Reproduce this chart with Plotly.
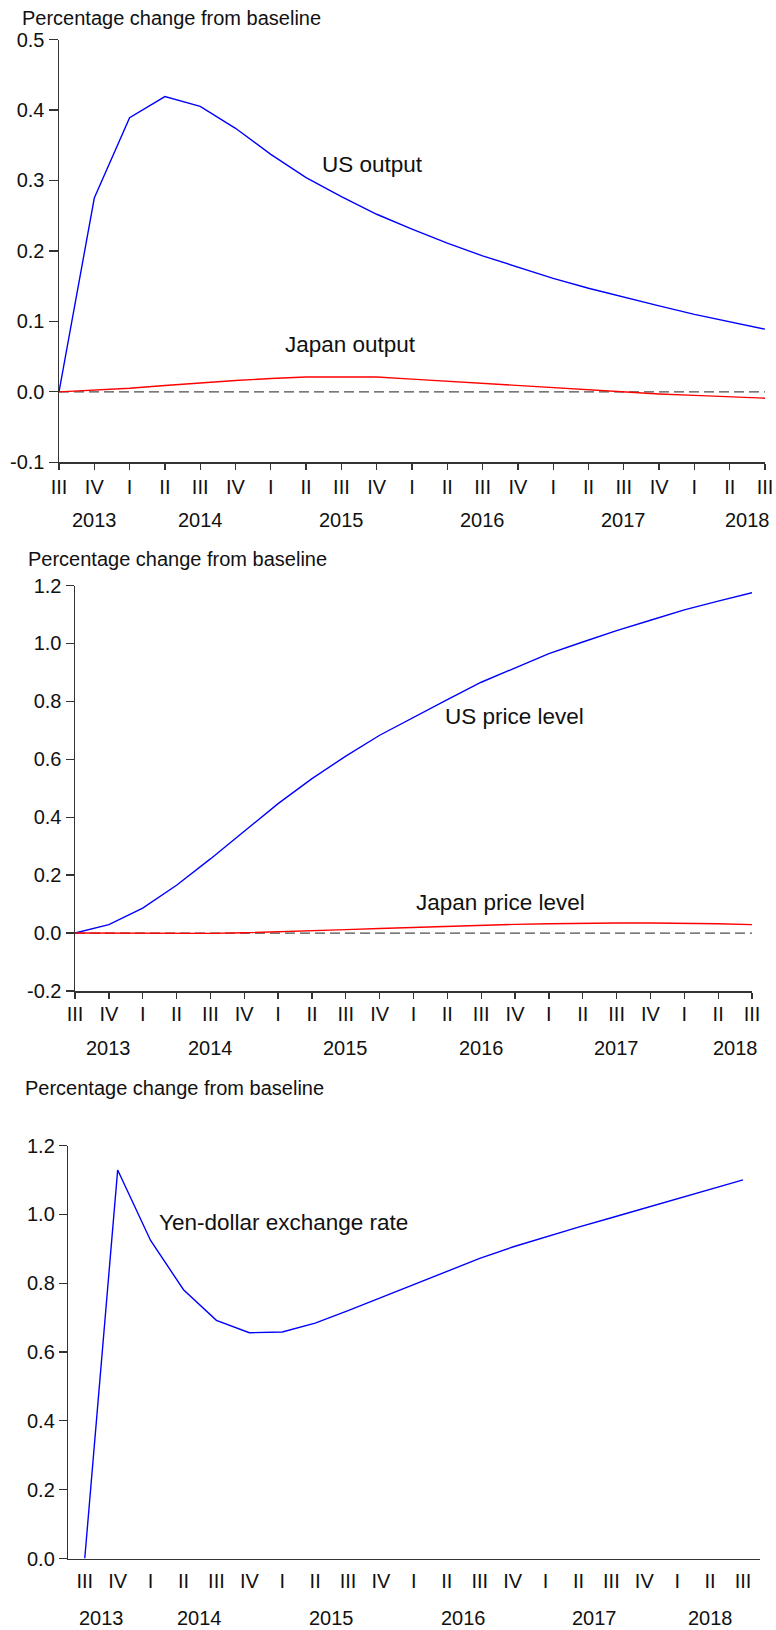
import plotly.graph_objects as go

# ---------------- data ----------------
quarters = ["III", "IV",
            "I", "II", "III", "IV",
            "I", "II", "III", "IV",
            "I", "II", "III", "IV",
            "I", "II", "III", "IV",
            "I", "II", "III"]
quarter_years = [2013, 2013,
                 2014, 2014, 2014, 2014,
                 2015, 2015, 2015, 2015,
                 2016, 2016, 2016, 2016,
                 2017, 2017, 2017, 2017,
                 2018, 2018, 2018]
years = [2013, 2014, 2015, 2016, 2017, 2018]

us_output = [0.000, 0.275, 0.389, 0.419, 0.405, 0.374, 0.337, 0.304, 0.277, 0.252, 0.231,
             0.211, 0.193, 0.177, 0.161, 0.147, 0.134, 0.122, 0.110, 0.100, 0.089]
japan_output = [0.000, 0.002, 0.005, 0.009, 0.013, 0.016, 0.019, 0.021, 0.021, 0.021, 0.018,
                0.015, 0.012, 0.009, 0.006, 0.002, 0.000, -0.003, -0.005, -0.007, -0.009]

us_price = [0.000, 0.029, 0.086, 0.165, 0.256, 0.352, 0.447, 0.533, 0.611, 0.683, 0.745,
            0.806, 0.866, 0.916, 0.965, 1.005, 1.044, 1.080, 1.116, 1.146, 1.175]
japan_price = [0.000, 0.000, -0.002, -0.002, -0.001, 0.001, 0.004, 0.008, 0.012, 0.016, 0.020,
               0.024, 0.027, 0.030, 0.032, 0.034, 0.035, 0.035, 0.034, 0.032, 0.029]

yen_dollar = [0.000, 1.129, 0.924, 0.781, 0.692, 0.656, 0.658, 0.684, 0.720, 0.758, 0.797,
              0.835, 0.872, 0.905, 0.935, 0.963, 0.990, 1.018, 1.045, 1.072, 1.100]

y1_ticks = [-0.1, 0.0, 0.1, 0.2, 0.3, 0.4, 0.5]
y2_ticks = [-0.2, 0.0, 0.2, 0.4, 0.6, 0.8, 1.0, 1.2]
y3_ticks = [0.0, 0.2, 0.4, 0.6, 0.8, 1.0, 1.2]

title_text = "Percentage change from baseline"

# ---------------- layout helpers ----------------
W, H = 776, 1630
FONT = "Liberation Sans, Arial, sans-serif"
AX = "#333333"
TICK_FS = 20
ANN_FS = 22.5

idx = list(range(len(quarters)))
zeros = [0.0 for _ in idx]
q1_idx = [i for i, q in enumerate(quarters) if q == "I"]
bounds = [i - 0.5 for i in range(len(quarters) + 1)]
year_bounds = [i - 0.5 for i in q1_idx]


def xdom(a, b):
    return [a / W, b / W]


def ydom(top, bottom):
    return [1 - bottom / H, 1 - top / H]


def fmt(v):
    return f"{v:.1f}".replace("-0.0", "0.0")


def year_centres(shift):
    out = []
    for yv in years:
        ii = [i for i, q in enumerate(quarter_years) if q == yv]
        out.append(sum(ii) / len(ii) + shift)
    return out


fig = go.Figure()

# panel 1
fig.add_trace(go.Scatter(x=idx, y=zeros, mode="lines", xaxis="x", yaxis="y",
                         line=dict(color="#4d4d4d", width=1.2, dash="10px,5px")))
fig.add_trace(go.Scatter(x=idx, y=us_output, mode="lines", xaxis="x", yaxis="y",
                         line=dict(color="#0000ff", width=1.4)))
fig.add_trace(go.Scatter(x=idx, y=japan_output, mode="lines", xaxis="x", yaxis="y",
                         line=dict(color="#ff0000", width=1.4)))
# panel 2
fig.add_trace(go.Scatter(x=idx, y=zeros, mode="lines", xaxis="x2", yaxis="y2",
                         line=dict(color="#4d4d4d", width=1.2, dash="10px,5px")))
fig.add_trace(go.Scatter(x=idx, y=us_price, mode="lines", xaxis="x2", yaxis="y2",
                         line=dict(color="#0000ff", width=1.4)))
fig.add_trace(go.Scatter(x=idx, y=japan_price, mode="lines", xaxis="x2", yaxis="y2",
                         line=dict(color="#ff0000", width=1.4)))
# panel 3
fig.add_trace(go.Scatter(x=idx, y=yen_dollar, mode="lines", xaxis="x3", yaxis="y3",
                         line=dict(color="#0000ff", width=1.4)))

tickfont = dict(family=FONT, size=TICK_FS, color="#111111")

common_x = dict(showgrid=False, zeroline=False, showline=True, linecolor=AX, linewidth=1.5,
                tickcolor=AX, tickwidth=1.3, tickfont=tickfont, tickmode="array",
                fixedrange=True, automargin=False)
common_y = dict(showgrid=False, zeroline=False, showline=True, linecolor=AX, linewidth=1.5,
                tickcolor=AX, tickwidth=1.3, tickfont=tickfont, tickmode="array",
                ticks="outside", ticklen=9, fixedrange=True, automargin=False)
overlay_x = dict(showgrid=False, zeroline=False, showline=False, showticklabels=False,
                 tickcolor=AX, tickwidth=1.3, tickmode="array", ticks="outside",
                 fixedrange=True, automargin=False)

P1 = dict(x=xdom(59, 765), y=ydom(39.5, 462.3))
P2 = dict(x=xdom(75, 752), y=ydom(585.5, 991))
P3 = dict(x=xdom(68.3, 759.5), y=ydom(1145.5, 1558.5))

fig.update_layout(
    width=W, height=H,
    margin=dict(l=0, r=0, t=0, b=0, autoexpand=False),
    paper_bgcolor="white", plot_bgcolor="white",
    showlegend=False,
    hovermode=False,
    font=dict(family=FONT, size=TICK_FS, color="#111111"),
    # panel 1
    xaxis=dict(common_x, domain=P1["x"], anchor="y", range=[0, 20], tickvals=idx,
               ticktext=quarters, ticks="outside", ticklen=6, ticklabelstandoff=0),
    xaxis4=dict(overlay_x, domain=P1["x"], anchor="y", overlaying="x", range=[0, 20],
                tickvals=q1_idx, ticklen=10),
    yaxis=dict(common_y, domain=P1["y"], anchor="x", range=[-0.1, 0.5], tickvals=y1_ticks,
               ticktext=[fmt(v) for v in y1_ticks]),
    # panel 2
    xaxis2=dict(common_x, domain=P2["x"], anchor="y2", range=[0, 20], tickvals=idx,
                ticktext=quarters, ticks="outside", ticklen=6, ticklabelstandoff=-2),
    xaxis5=dict(overlay_x, domain=P2["x"], anchor="y2", overlaying="x2", range=[0, 20],
                tickvals=q1_idx, ticklen=10),
    yaxis2=dict(common_y, domain=P2["y"], anchor="x2", range=[-0.2, 1.2], tickvals=y2_ticks,
                ticktext=[fmt(v) for v in y2_ticks], ticklen=8),
    # panel 3
    xaxis3=dict(common_x, domain=P3["x"], anchor="y3", range=[-0.5, 20.5], tickvals=idx,
                ticktext=quarters, ticks="", ticklabelstandoff=4),
    xaxis6=dict(overlay_x, domain=P3["x"], anchor="y3", overlaying="x3", range=[-0.5, 20.5],
                tickvals=bounds, ticklen=5),
    xaxis7=dict(overlay_x, domain=P3["x"], anchor="y3", overlaying="x3", range=[-0.5, 20.5],
                tickvals=year_bounds, ticklen=9),
    yaxis3=dict(common_y, domain=P3["y"], anchor="x3", range=[0, 1.2], tickvals=y3_ticks,
                ticktext=[fmt(v) for v in y3_ticks], ticklen=8),
)

ann = []
# titles
for ypix, xpix in [(18, 20), (559, 26), (1088, 22.7)]:
    ann.append(dict(text=title_text, xref="paper", yref="paper", x=xpix / W, y=1 - ypix / H,
                    xanchor="left", yanchor="middle", showarrow=False,
                    font=dict(family=FONT, size=TICK_FS, color="#111111")))

# year labels
for xr, yr, shift, yshift in [("x", "y", 0.5, -58), ("x2", "y2", 0.5, -57), ("x3", "y3", 0.0, -59)]:
    for yv, xc in zip(years, year_centres(shift)):
        ann.append(dict(text=str(yv), xref=xr, yref=yr + " domain", x=xc, y=0,
                        yshift=yshift, xanchor="center", yanchor="middle", showarrow=False,
                        font=dict(family=FONT, size=TICK_FS, color="#111111")))

# series labels
series_labels = [
    ("US output", "x", "y", 8.88, 0.323),
    ("Japan output", "x", "y", 8.27, 0.067),
    ("US price level", "x2", "y2", 12.97, 0.749),
    ("Japan price level", "x2", "y2", 12.58, 0.106),
    ("Yen-dollar exchange rate", "x3", "y3", 6.03, 0.977),
]
for txt, xr, yr, xv, yv in series_labels:
    ann.append(dict(text=txt, xref=xr, yref=yr, x=xv, y=yv, xanchor="center",
                    yanchor="middle", showarrow=False,
                    font=dict(family=FONT, size=ANN_FS, color="#111111")))

fig.update_layout(annotations=ann)

fig.write_html(
    "out.html",
    config={"displayModeBar": False, "staticPlot": True},
    post_script="document.body.style.margin='0px';document.body.style.padding='0px';"
                "document.documentElement.style.overflow='hidden';",
)
